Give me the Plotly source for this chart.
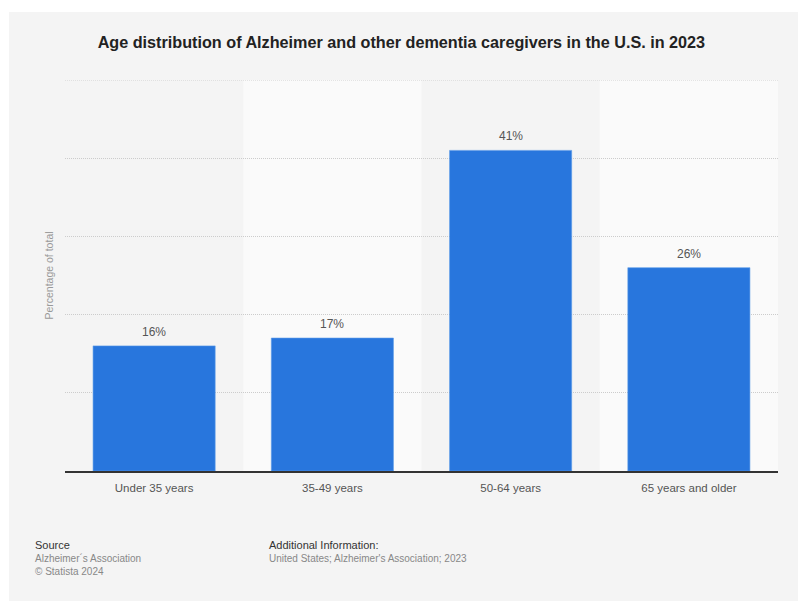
import plotly.graph_objects as go

categories = ["Under 35 years", "35-49 years", "50-64 years", "65 years and older"]
values = [16, 17, 41, 26]
labels = ["16%", "17%", "41%", "26%"]
y_ticks = [0, 10, 20, 30, 40, 50]

FONT = "Liberation Sans, Arial, sans-serif"

fig = go.Figure()
fig.add_trace(go.Bar(
    x=categories, y=values,
    marker=dict(color="#2876dd", line=dict(color="#5b9ae8", width=0.6)),
    width=0.685, hoverinfo="skip",
))

n = len(categories)
shapes = [
    dict(type="rect", xref="paper", yref="paper",
         x0=(9 - 65) / 713, x1=(800 - 65) / 713,
         y0=(471 - 603) / 391, y1=(471 - 12) / 391,
         fillcolor="#f4f4f4", line=dict(width=0), layer="below"),
]
for i in (1, 3):
    shapes.append(dict(type="rect", xref="paper", yref="paper",
                       x0=i / n, x1=(i + 1) / n, y0=0, y1=1,
                       fillcolor="#fafafa", line=dict(width=0), layer="below"))
# top gridline (plotly omits the grid line at the range edge)
shapes.append(dict(type="line", xref="paper", yref="y", x0=0, x1=1,
                   y0=y_ticks[-1], y1=y_ticks[-1],
                   line=dict(color="#cccccc", width=1, dash="1px,1px"), layer="below"))

annotations = []
for c, v, t in zip(categories, values, labels):
    annotations.append(dict(x=c, y=v, xref="x", yref="y", text=t, showarrow=False,
                            yanchor="bottom", yshift=5,
                            font=dict(family=FONT, size=12, color="#555555")))

foot = [
    dict(text="Source", x=33, y=545,
         font=dict(family=FONT, size=11, color="#333333")),
    dict(text="Alzheimer´s Association", x=33, y=558,
         font=dict(family=FONT, size=10, color="#888888")),
    dict(text="© Statista 2024", x=33, y=571,
         font=dict(family=FONT, size=10, color="#888888")),
    dict(text="Additional Information:", x=267, y=545,
         font=dict(family=FONT, size=11, color="#333333")),
    dict(text="United States; Alzheimer's Association; 2023", x=267, y=558,
         font=dict(family=FONT, size=10, color="#888888")),
]
for a in foot:
    a.update(xref="paper", yref="paper", showarrow=False, xanchor="left", yanchor="middle")
    a["x"] = (a["x"] - 65) / 713
    a["y"] = (471 - a["y"]) / 391
    annotations.append(a)

fig.update_layout(
    width=798, height=601,
    margin=dict(l=65, r=20, t=80, b=130),
    paper_bgcolor="#ffffff", plot_bgcolor="rgba(0,0,0,0)",
    showlegend=False, bargap=0.315,
    title=dict(text="<b>Age distribution of Alzheimer and other dementia caregivers in the U.S. in 2023</b>",
               x=0.503, xanchor="center", y=1 - 42 / 601, yanchor="middle",
               font=dict(family=FONT, size=16.2, color="#222222")),
    xaxis=dict(showline=True, linecolor="#333333", linewidth=1.5, ticks="",
               ticklabelstandoff=5,
               tickfont=dict(family=FONT, size=11.5, color="#555555"),
               showgrid=False, fixedrange=True),
    yaxis=dict(range=[0, 50], tickvals=y_ticks, showticklabels=False,
               showgrid=True, gridcolor="#cccccc", griddash="1px,1px", gridwidth=1,
               zeroline=False, ticks="",
               title=dict(text="Percentage of total", standoff=8,
                          font=dict(family=FONT, size=10.5, color="#999999"))),
    shapes=shapes, annotations=annotations,
)

fig.write_html("out.html")
